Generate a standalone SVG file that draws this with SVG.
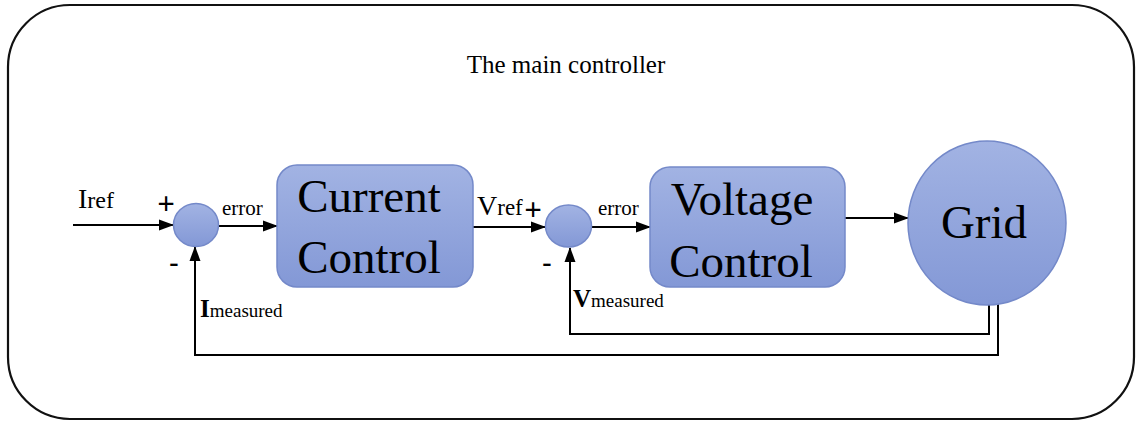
<svg xmlns="http://www.w3.org/2000/svg" width="1137" height="421" viewBox="0 0 1137 421">
<style>
.t{font-family:"Liberation Serif","Times New Roman",serif;fill:#000}
.big{font-size:47px}
.blk{fill:url(#g);stroke:#7489c9;stroke-width:1.5}
.ln{fill:none;stroke:#000;stroke-width:2}
</style>
<defs>
<linearGradient id="g" x1="0" y1="0" x2="0" y2="1">
<stop offset="0" stop-color="#a2b3e3"/>
<stop offset="1" stop-color="#8398d6"/>
</linearGradient>
<marker id="a" markerUnits="userSpaceOnUse" markerWidth="15" markerHeight="12" refX="14" refY="6" orient="auto">
<path d="M0,0.5 L15,6 L0,11.5 Z" fill="#000"/>
</marker>
</defs>
<rect x="8" y="5" width="1126" height="414" rx="62" fill="#fff" stroke="#111" stroke-width="2.2"/>
<text class="t" x="566" y="73" font-size="25" text-anchor="middle">The main controller</text>

<g id="connectors">
<line class="ln" x1="73" y1="225" x2="173" y2="225" marker-end="url(#a)"/>
<line class="ln" x1="218" y1="226" x2="277" y2="226" marker-end="url(#a)"/>
<line class="ln" x1="473" y1="227" x2="545" y2="227" marker-end="url(#a)"/>
<line class="ln" x1="592" y1="227" x2="650" y2="227" marker-end="url(#a)"/>
<line class="ln" x1="845" y1="218" x2="908" y2="218" marker-end="url(#a)"/>
<path class="ln" d="M989,304 V334 H570 V248" marker-end="url(#a)"/>
<path class="ln" d="M998,302 V355 H195 V247" marker-end="url(#a)"/>
</g>

<g id="labels">
<text class="t" x="78" y="208"><tspan font-size="28">I</tspan><tspan font-size="24">ref</tspan></text>
<text class="t" x="166" y="214" font-size="31" font-weight="bold" text-anchor="middle">+</text>
<text class="t" x="174" y="271" font-size="28" font-weight="bold" text-anchor="middle">-</text>
<text class="t" x="222" y="215" font-size="21">error</text>
<text class="t" x="200" y="317"><tspan font-size="25" font-weight="bold">I</tspan><tspan font-size="19">measured</tspan></text>
<text class="t" x="477" y="215"><tspan font-size="28">V</tspan><tspan font-size="23">ref</tspan></text>
<text class="t" x="533" y="220" font-size="31" font-weight="bold" text-anchor="middle">+</text>
<text class="t" x="547" y="271" font-size="28" font-weight="bold" text-anchor="middle">-</text>
<text class="t" x="598" y="215" font-size="21">error</text>
<text class="t" x="573" y="307"><tspan font-size="25" font-weight="bold">V</tspan><tspan font-size="19">measured</tspan></text>
</g>

<g id="sum1"><ellipse class="blk" cx="196" cy="225" rx="22.5" ry="21.5"/></g>
<g id="sum2"><ellipse class="blk" cx="568.5" cy="226" rx="23" ry="21"/></g>

<g id="current-control">
<rect class="blk" x="277" y="165" width="196" height="122" rx="20"/>
<text class="t big" x="369" y="212" text-anchor="middle">Current</text>
<text class="t big" x="369" y="273" text-anchor="middle">Control</text>
</g>

<g id="voltage-control">
<rect class="blk" x="650" y="167" width="195" height="120" rx="20"/>
<text class="t big" x="742" y="215" text-anchor="middle">Voltage</text>
<text class="t big" x="741" y="277" text-anchor="middle">Control</text>
</g>

<g id="grid">
<ellipse class="blk" cx="987" cy="223" rx="79" ry="82"/>
<text class="t big" x="984" y="238" text-anchor="middle">Grid</text>
</g>
</svg>
